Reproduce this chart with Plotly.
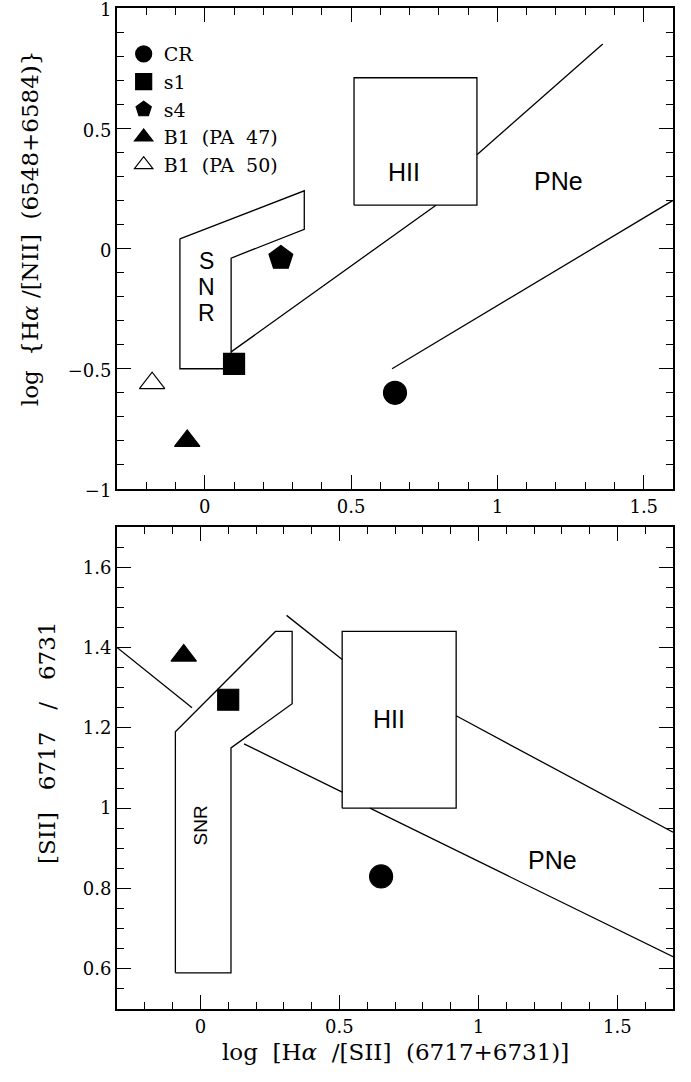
import plotly.graph_objects as go

# ---------------- data ----------------
# top panel: log Ha/[NII] vs log Ha/[SII]
names = ["CR", "s1", "s4", "B1\u00a0\u00a0(PA\u00a0\u00a047)", "B1\u00a0\u00a0(PA\u00a0\u00a050)"]
symbols = ["circle", "square", "pentagon", "triangle-up", "triangle-up-open"]
sizes = [23, 21, 25, 22, 22]
top_x = [0.65, 0.10, 0.26, -0.06, -0.18]
top_y = [-0.60, -0.48, -0.04, -0.80, -0.56]
# bottom panel: [SII] 6717/6731 vs log Ha/[SII] (B1 PA 50 not shown)
bot_x = [0.65, 0.10, None, -0.06, None]
bot_y = [0.83, 1.27, None, 1.38, None]

# region outlines, top panel
top_snr_x = [-0.085, 0.34, 0.34, 0.09, 0.09, -0.085, -0.085]
top_snr_y = [0.04, 0.24, 0.08, -0.04, -0.50, -0.50, 0.04]
top_hii_x = [0.51, 0.93, 0.93, 0.51, 0.51]
top_hii_y = [0.18, 0.18, 0.71, 0.71, 0.18]
top_line1_x = [0.09, 0.79]
top_line1_y = [-0.43, 0.18]
top_line2_x = [0.93, 1.36]
top_line2_y = [0.39, 0.85]
top_line3_x = [0.64, 1.60]
top_line3_y = [-0.50, 0.20]

# region outlines, bottom panel
bot_snr_x = [-0.09, 0.11, 0.11, 0.33, 0.33, 0.27, -0.09, -0.09]
bot_snr_y = [0.59, 0.59, 1.15, 1.26, 1.44, 1.44, 1.19, 0.59]
bot_hii_x = [0.51, 0.92, 0.92, 0.51, 0.51]
bot_hii_y = [1.00, 1.00, 1.44, 1.44, 1.00]
bot_line1_x = [-0.30, -0.03]
bot_line1_y = [1.40, 1.25]
bot_line2_x = [0.31, 0.51]
bot_line2_y = [1.48, 1.37]
bot_line3_x = [0.92, 1.70]
bot_line3_y = [1.23, 0.94]
bot_line4_x = [0.157, 0.51]
bot_line4_y = [1.16, 1.04]
bot_line5_x = [0.61, 1.70]
bot_line5_y = [1.00, 0.63]

# region labels
top_labels = [("HII", 0.68, 0.32), ("PNe", 1.21, 0.28)]
top_snr_letters = [("S", 0.007, -0.052), ("N", 0.007, -0.160), ("R", 0.007, -0.268)]
bot_labels = [("HII", 0.678, 1.223), ("PNe", 1.265, 0.871)]
bot_snr_label = ("SNR", 0.0, 0.958)

# ---------------- figure ----------------
fig = go.Figure()
LW = 1.3
line_style = dict(color="black", width=LW)

def add_line(xs, ys, xa, ya):
    fig.add_trace(go.Scatter(x=xs, y=ys, mode="lines", line=line_style,
                             showlegend=False, hoverinfo="skip", xaxis=xa, yaxis=ya))

for xs, ys in [(top_snr_x, top_snr_y), (top_hii_x, top_hii_y), (top_line1_x, top_line1_y),
               (top_line2_x, top_line2_y), (top_line3_x, top_line3_y)]:
    add_line(xs, ys, "x", "y")
for xs, ys in [(bot_snr_x, bot_snr_y), (bot_hii_x, bot_hii_y), (bot_line1_x, bot_line1_y),
               (bot_line2_x, bot_line2_y), (bot_line3_x, bot_line3_y),
               (bot_line4_x, bot_line4_y), (bot_line5_x, bot_line5_y)]:
    add_line(xs, ys, "x2", "y2")

for i, nm in enumerate(names):
    fig.add_trace(go.Scatter(
        x=[top_x[i]], y=[top_y[i]], mode="markers", name=nm,
        marker=dict(symbol=symbols[i], size=sizes[i], color="black",
                    line=dict(color="black", width=1.2)),
        xaxis="x", yaxis="y", showlegend=True))
    if bot_x[i] is not None:
        fig.add_trace(go.Scatter(
            x=[bot_x[i]], y=[bot_y[i]], mode="markers", name=nm,
            marker=dict(symbol=symbols[i], size=sizes[i], color="black",
                        line=dict(color="black", width=1.2)),
            xaxis="x2", yaxis="y2", showlegend=False))

SANS = "Liberation Sans, Arial, sans-serif"
annotations = []
for t, x, y in top_labels:
    annotations.append(dict(text=t, x=x, y=y, xref="x", yref="y", showarrow=False,
                            font=dict(family=SANS, size=25, color="black")))
for t, x, y in top_snr_letters:
    annotations.append(dict(text=t, x=x, y=y, xref="x", yref="y", showarrow=False,
                            font=dict(family=SANS, size=23, color="black")))
for t, x, y in bot_labels:
    annotations.append(dict(text=t, x=x, y=y, xref="x2", yref="y2", showarrow=False,
                            font=dict(family=SANS, size=25, color="black")))
annotations.append(dict(text=bot_snr_label[0], x=bot_snr_label[1], y=bot_snr_label[2],
                        xref="x2", yref="y2", showarrow=False, textangle=-90,
                        font=dict(family=SANS, size=19, color="black")))

SERIF = "DejaVu Serif, serif"
TITLE_FONT = dict(family=SERIF, size=23, color="black")
NB = "\u00a0"
annotations.append(dict(text="log" + NB * 2 + "{H<i>α</i>" + NB + "/[NII]" + NB * 2 + "(6548+6584)}",
                        x=-0.1565, y=0.780,
                        xref="paper", yref="paper", showarrow=False, textangle=-90,
                        xanchor="center", yanchor="middle", font=TITLE_FONT))
annotations.append(dict(text="[SII]" + NB * 3 + "6717" + NB * 3 + "/" + NB * 3 + "6731",
                        x=-0.126, y=0.2667,
                        xref="paper", yref="paper", showarrow=False, textangle=-90,
                        xanchor="center", yanchor="middle", font=TITLE_FONT))
annotations.append(dict(text="log" + NB * 2 + "[H<i>α</i>" + NB * 2 + "/[SII]" + NB * 2 + "(6717+6731)]",
                        x=0.5, y=-0.043,
                        xref="paper", yref="paper", showarrow=False,
                        xanchor="center", yanchor="middle", font=TITLE_FONT))

def axis(rng, dtick, minor, domain, anchor, tick0=0, shift=0):
    return dict(range=rng, dtick=dtick, tick0=tick0, domain=domain, anchor=anchor,
                automargin=False,
                showline=True, linewidth=2, linecolor="black", mirror="ticks",
                ticks="inside", ticklen=14, tickwidth=1.4, tickcolor="black",
                ticklabeloverflow="allow", ticklabelshift=shift,
                minor=dict(ticks="inside", ticklen=7, tickwidth=1.4, tickcolor="black",
                           dtick=minor, tick0=0, showgrid=False),
                showgrid=False, zeroline=False,
                tickfont=dict(family=SERIF, size=18, color="black"))

fig.update_layout(
    width=691, height=1082, autosize=False,
    margin=dict(l=117, r=18, t=8, b=73, autoexpand=False),
    paper_bgcolor="white", plot_bgcolor="white",
    xaxis=axis([-0.3, 1.6], 0.5, 0.1, [0, 1], "y"),
    yaxis=axis([-1, 1], 0.5, 0.1, [0.5195, 1], "x", shift=2),
    xaxis2=axis([-0.3, 1.7], 0.5, 0.1, [0, 1], "y2"),
    yaxis2=axis([0.5, 1.7], 0.2, 0.05, [0, 0.4815], "x2"),
    showlegend=True,
    legend=dict(x=0.012, y=0.973, xanchor="left", yanchor="top",
                bgcolor="rgba(0,0,0,0)", borderwidth=0, tracegroupgap=0,
                font=dict(family=SERIF, size=19, color="black"),
                itemclick=False, itemdoubleclick=False),
    annotations=annotations,
)

fig.write_html("out.html")
